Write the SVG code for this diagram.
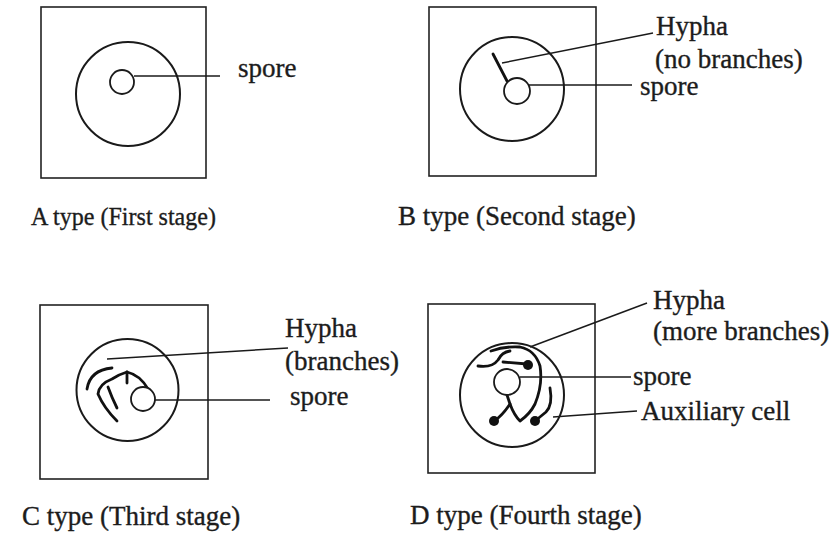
<svg xmlns="http://www.w3.org/2000/svg" width="838" height="535" viewBox="0 0 838 535">
  <style>
    .frame { fill: none; stroke: #222; stroke-width: 1.6; }
    .dish { fill: none; stroke: #1a1a1a; stroke-width: 2; }
    .spore { fill: #fff; stroke: #1a1a1a; stroke-width: 1.8; }
    .hypha { fill: none; stroke: #111; stroke-width: 2.8; stroke-linecap: round; stroke-linejoin: round; }
    .lead { fill: none; stroke: #1a1a1a; stroke-width: 1.5; }
    .dot { fill: #111; }
    text { font-family: "Liberation Serif", "Times New Roman", serif; font-size: 27px; fill: #1c1c1c; stroke: #1c1c1c; stroke-width: 0.35; }
    .caption-a { font-size: 26px; }
  </style>
  <rect width="838" height="535" fill="#fff"/>

  <!-- Stage A: single spore -->
  <g id="stageA">
    <rect class="frame" x="41" y="7" width="165" height="171"/>
    <circle class="dish" cx="128" cy="94" r="52"/>
    <circle class="spore" cx="122" cy="82" r="12"/>
    <text x="238" y="77">spore</text>
    <text class="caption-a" x="31" y="225" textLength="185" lengthAdjust="spacingAndGlyphs">A type (First stage)</text>
  </g>

  <!-- Stage B: spore with an unbranched hypha -->
  <g id="stageB">
    <rect class="frame" x="429" y="7" width="167" height="169"/>
    <circle class="dish" cx="512" cy="89" r="52"/>
    <path class="hypha" d="M493 54 L507 81"/>
    <circle class="spore" cx="517" cy="91" r="13"/>
    <text x="656" y="35">Hypha</text>
    <text x="655" y="68">(no branches)</text>
    <text x="640" y="95">spore</text>
    <text x="398" y="225">B type (Second stage)</text>
  </g>

  <!-- Stage C: branching hyphae -->
  <g id="stageC">
    <rect class="frame" x="40" y="305" width="168" height="174"/>
    <circle class="dish" cx="127.5" cy="390" r="51"/>
    <path class="hypha" d="M87 389 Q90 370 112 368"/>
    <path class="hypha" d="M117 421 Q104 408 98 394 Q99 384 112 379 Q120 374 127 372 Q140 375 148 389"/>
    <path class="hypha" d="M108 387 Q112 398 117 408"/>
    <path class="hypha" d="M127 372 L127 383"/>
    <circle class="spore" cx="143" cy="399" r="12"/>
    <text x="285" y="337">Hypha</text>
    <text x="285" y="370">(branches)</text>
    <text x="290" y="405">spore</text>
    <text x="22" y="525">C type (Third stage)</text>
  </g>

  <!-- Stage D: many branches and auxiliary cells -->
  <g id="stageD">
    <rect class="frame" x="428" y="304" width="167" height="169"/>
    <circle class="dish" cx="512" cy="395" r="52"/>
    <path class="hypha" d="M478 366 Q492 368 498 360 Q502 352 510 351"/>
    <path class="hypha" d="M503 362 L527 364"/>
    <path class="hypha" d="M494 421 Q502 416 510 404 Q514 415 520 421 Q530 414 535 404 Q543 385 540 366 Q535 350 520 347 Q505 346 491 351"/>
    <path class="hypha" d="M507 395 L510 404"/>
    <path class="hypha" d="M550 388 Q553 405 546 412 L535 421"/>
    <circle class="spore" cx="507" cy="382" r="13"/>
    <circle class="dot" cx="528" cy="365" r="5"/>
    <circle class="dot" cx="494" cy="421" r="5"/>
    <circle class="dot" cx="535" cy="421" r="5"/>
    <text x="653" y="309">Hypha</text>
    <text x="653" y="340">(more branches)</text>
    <text x="633" y="385">spore</text>
    <text x="641" y="420">Auxiliary cell</text>
    <text x="410" y="524">D type (Fourth stage)</text>
  </g>

  <!-- Leader lines from labels to structures -->
  <g id="connectors">
    <path class="lead" d="M134 76 L220 76"/>
    <path class="lead" d="M502 63 L653 33"/>
    <path class="lead" d="M528 85 L632 85"/>
    <path class="lead" d="M107 359 L288 348"/>
    <path class="lead" d="M155 400 L270 400"/>
    <path class="lead" d="M530 347 L647 303"/>
    <path class="lead" d="M520 377 L631 377"/>
    <path class="lead" d="M553 417 L637 411"/>
  </g>
</svg>
